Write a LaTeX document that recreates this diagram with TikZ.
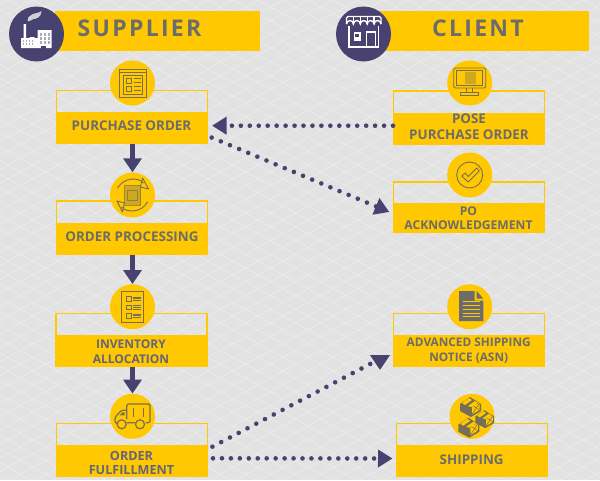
\documentclass[tikz,border=0pt]{standalone}
\usepackage{fontspec}
\setmainfont{Open Sans}
\newfontfamily\headfont[LetterSpace=10]{Open Sans}
\usepackage{xcolor}
\usepackage{tikz}
\usetikzlibrary{arrows.meta,positioning,calc}
\definecolor{pagegray}{HTML}{E2E2E2}
\definecolor{accentyellow}{HTML}{FFC800}
\definecolor{accentnavy}{HTML}{47426F}
\definecolor{labelgray}{HTML}{6C6C6C}
\definecolor{labelblue}{HTML}{65657A}
\definecolor{iconink}{HTML}{776F55}
\tikzset{
  latticeline/.style={draw=white,opacity=0.28,line width=0.9pt},
  headbar/.style={fill=accentyellow,inner sep=0pt,outer sep=0pt,minimum height=39.5pt},
  headlabel/.style={text=labelgray,font=\headfont\bfseries\fontsize{23}{27}\selectfont},
  headdisc/.style={circle,fill=accentnavy,inner sep=0pt,minimum size=55pt},
  boxframe/.style={draw=accentyellow,line width=1.6pt,inner sep=0pt,outer sep=0pt,
    minimum width=151pt,minimum height=53pt},
  boxband/.style={fill=accentyellow,inner sep=0pt,outer sep=0pt,
    minimum width=152pt,minimum height=32pt},
  boxlabel/.style={inner sep=0pt,align=center,text=labelgray},
  biglabel/.style={boxlabel,font=\bfseries\fontsize{13.4}{16.5}\selectfont},
  smalllabel/.style={boxlabel,font=\bfseries\fontsize{12}{14.5}\selectfont},
  icondisc/.style={circle,fill=accentyellow,inner sep=0pt,minimum size=45pt},
  flowarrow/.style={-{Triangle[length=14pt,width=18pt]},line width=5.5pt,draw=accentnavy},
  dotarrow/.style={-{Triangle[length=14.5pt,width=17pt]},draw=accentnavy,line width=4.6pt,
    line cap=round,dash pattern=on 0pt off 8.95pt},
  slantdots/.style={dash pattern=on 0pt off 9.9pt},
  iconline/.style={draw=iconink,line width=0.9pt},
  whiteline/.style={draw=white,line width=1.4pt},
  crate/.pic={
    \fill[iconink] (-10,-2) -- (0,-9) -- (11,-2) -- (11,5) -- (1,11) -- (-10,5) -- cycle;
    \fill[accentyellow] (2,-1) -- (9.5,-3) -- (9.5,4) -- (2,8.5) -- cycle;
    \draw[iconink,line width=0.5pt] (2,-1) -- (9.5,4) (9.5,-3) -- (2,8.5);
    \fill[accentyellow] (-8,-3) -- (-1,-8) -- (2,-6) -- (-5,-1) -- cycle;
    \fill[accentyellow] (-2,0) -- (5,-5) -- (8,-3.5) -- (1,1) -- cycle;
  }
}
\begin{document}
\begin{tikzpicture}[x=1pt,y=-1pt]
  \useasboundingbox (0,0) rectangle (600,480);
  \fill[pagegray] (0,0) rectangle (600,480);
  \foreach \k in {-36,...,24}
    \draw[latticeline] (\k*25+8,0) -- ++(873,480);
  \foreach \k in {0,...,60}
    \draw[latticeline] (\k*25+8,0) -- ++(-873,480);
  % headers
  \node[headbar,minimum width=205pt] (supplierbar) at (157.5,30.75) {};
  \node[headbar,minimum width=214pt] (clientbar) at (482,30.75) {};
  \node[headdisc] (supplierdisc) at (36.5,34) {};
  \node[headdisc] (clientdisc) at (363.5,34) {};
  \node[headlabel] (supplierlabel) at (139.5,28) {SUPPLIER};
  \node[headlabel] (clientlabel) at (478,28) {CLIENT};
  % supplier column
  \node[boxframe] (poframe) at (132,117) {};
  \node[boxband] (poband) at (132,128) {};
  \node[biglabel] (polabel) at (131.5,125.7) {PURCHASE ORDER};
  \node[icondisc] (poicon) at (132.5,83) {};
  \node[boxframe] (procframe) at (132,227.7) {};
  \node[boxband] (procband) at (132,238.7) {};
  \node[biglabel] (proclabel) at (132,236.5) {ORDER PROCESSING};
  \node[icondisc] (procicon) at (132.5,195) {};
  \node[boxframe] (invframe) at (131.5,340) {};
  \node[boxband] (invband) at (131.5,351) {};
  \node[smalllabel,text=labelblue,font=\bfseries\fontsize{12}{15}\selectfont] (invlabel) at (131,351.5) {INVENTORY\\ALLOCATION};
  \node[icondisc] (invicon) at (132.5,306.7) {};
  \node[boxframe] (fulframe) at (132,449.8) {};
  \node[boxband] (fulband) at (132,460.8) {};
  \node[smalllabel,text=labelblue,font=\bfseries\fontsize{12.6}{14}\selectfont] (fullabel) at (131.5,462.5) {ORDER\\FULFILLMENT};
  \node[icondisc] (fulicon) at (132.5,416.3) {};
  % client column
  \node[boxframe] (poseframe) at (469,117.2) {};
  \node[boxband] (poseband) at (469,128.5) {};
  \node[biglabel] (poselabel) at (469,126.8) {POSE\\PURCHASE ORDER};
  \node[icondisc] (poseicon) at (469.7,83) {};
  \node[boxframe,minimum height=50pt] (ackframe) at (469,207) {};
  \node[boxband,minimum height=29pt] (ackband) at (469,217.5) {};
  \node[smalllabel,font=\bfseries\fontsize{12.1}{14}\selectfont] (acklabel) at (468.5,218) {PO\\ACKNOWLEDGEMENT};
  \node[icondisc] (ackicon) at (469.7,175) {};
  \node[boxframe] (asnframe) at (469,340) {};
  \node[boxband] (asnband) at (469,351.3) {};
  \node[smalllabel,font=\bfseries\fontsize{11.8}{14.5}\selectfont] (asnlabel) at (468.7,350.7) {ADVANCED SHIPPING\\NOTICE (ASN)};
  \node[icondisc] (asnicon) at (469.7,306.7) {};
  \node[boxframe] (shipframe) at (472,449.8) {};
  \node[boxband] (shipband) at (472,461) {};
  \node[biglabel] (shiplabel) at (471.7,460) {SHIPPING};
  \node[icondisc] (shipicon) at (472,416.3) {};
  % connectors
  \coordinate (asntip) at (380,370);
  \draw[flowarrow] (procicon.north |- poband.south) -- (procicon.north);
  \draw[flowarrow] (invicon.north |- procband.south) -- (invicon.north);
  \draw[flowarrow] (fulicon.north |- invband.south) -- (fulicon.north);
  \draw[dotarrow,shorten >=4pt] ([yshift=2.8pt]poseband.west) -- ([yshift=2.3pt]poband.east);
  \draw[dotarrow,slantdots,shorten <=4pt,shorten >=4pt] ([yshift=-8pt]poband.east) -- ([yshift=4pt]ackband.west);
  \draw[dotarrow,slantdots,shorten <=5pt,-{Triangle[length=15pt,width=19pt]}] ([yshift=11.8pt]fulband.east) -- (380,358.8) -- (asntip);
  \draw[dotarrow,shorten <=5pt,shorten >=3.5pt] ([yshift=2.5pt]fulband.east) -- ([yshift=2.5pt]shipband.west);
  % icons
  \begin{scope}[shift={(supplierdisc.center)}]
    \fill[white] (-15.5,4) rectangle (1,14) (1,-4) rectangle (15,14) (-13,-10) rectangle (-10.5,4) (-7,3) rectangle (-2,4);
    \fill[white,opacity=0.75] (-8,-17) .. controls (-3,-22) and (2,-20) .. (5,-23) .. controls (5,-17) and (0,-15) .. (-3,-15) .. controls (-5,-14) and (-8,-12) .. (-9,-13) -- cycle;
    \fill[accentnavy] (4,12) rectangle (9,14.5);
    \foreach \x in {3,7,11}
      \foreach \y in {-1,3,7}
        \fill[accentnavy!45] (\x,\y) rectangle ++(2.6,2.6);
    \foreach \x in {-14,-11,...,-3}
      \foreach \y in {6,9}
        \fill[accentnavy!45] (\x,\y) rectangle ++(1.8,1.8);
  \end{scope}
  \begin{scope}[shift={(clientdisc.center)}]
    \draw[whiteline] (-14.5,-8) -- (-14.5,13) -- (15,13) -- (15,-8);
    \draw[whiteline,rounded corners=1.5pt] (-17,-10) -- (-17,-17.5) -- (17.5,-17.5) -- (17.5,-10);
    \draw[whiteline] (-17,-10) arc (180:360:3.45) arc (180:360:3.45) arc (180:360:3.45) arc (180:360:3.45) arc (180:360:3.45);
    \foreach \x in {-10.1,-3.2,3.7,10.6}
      \draw[whiteline] (\x,-17.5) -- (\x,-10);
    \draw[whiteline] (3,13) -- (3,-2) -- (12,-2) -- (12,13);
    \fill[white] (-10,-2) rectangle (-3,7);
    \fill[accentnavy] (-8.5,-0.5) rectangle (-4.5,3);
  \end{scope}
  \begin{scope}[shift={(poicon.center)}]
    \draw[iconline] (-13,-14) rectangle (13.5,14.5) (-13,-10.5) -- (13.5,-10.5);
    \draw[iconline] (-9,-8) rectangle (10,11);
    \draw[iconline] (-6,-5) rectangle (-1,0) (-6,3) rectangle (-1,8);
    \draw[iconline] (1,-4.5) -- (8,-4.5) (1,-1) -- (8,-1) (1,3.5) -- (8,3.5) (1,7) -- (8,7);
  \end{scope}
  \begin{scope}[shift={(procicon.center)}]
    \fill[iconink,opacity=0.35] (-8,-9.5) rectangle (8,10);
    \draw[iconline,opacity=0.7] (-8,-9.5) rectangle (8,10) (-5,-5) rectangle (5,5);
    \draw[iconline] (-15,-7) .. controls (-8,-18) and (6,-18) .. (11,-12);
    \draw[iconline] (15,7) .. controls (9,18) and (-6,18) .. (-11,12);
    \draw[iconline,line join=round] (10,-17) -- (16,-6) -- (8,-8) -- cycle;
    \draw[iconline,line join=round] (-10,17) -- (-15.5,6) -- (-8,8) -- cycle;
  \end{scope}
  \begin{scope}[shift={(poseicon.center)}]
    \draw[iconline,rounded corners=1.5pt] (-16,-15) rectangle (16,5);
    \draw[iconline] (-13,-12.5) rectangle (13,2.5);
    \fill[iconink,opacity=0.35] (-5,-11) rectangle (6,1);
    \draw[iconline] (-3,5) -- (-3,9.5) (3,5) -- (3,9.5);
    \draw[iconline] (-9,9.5) rectangle (9,12.5);
  \end{scope}
  \begin{scope}[shift={(ackicon.center)}]
    \draw[iconline] (0,0) circle (13);
    \draw[iconline,line join=round] (-8,1) -- (-4.5,-2) -- (-1.5,1.5) -- (7,-7) -- (9.5,-4) -- (-1.5,7) -- cycle;
  \end{scope}
  \begin{scope}[shift={(invicon.center)}]
    \draw[iconline] (-11,-15) rectangle (11,16);
    \foreach \y in {-10,-1.5,7}
      \draw[iconline] (-6,\y) rectangle ++(4.5,4.5) (0,\y+0.5) -- ++(8,0) (0,\y+2.2) -- ++(8,0) (0,\y+4) -- ++(8,0);
  \end{scope}
  \begin{scope}[shift={(asnicon.center)}]
    \fill[labelgray] (-10.7,-15.7) -- (5,-15.7) -- (5,-6) -- (13.6,-6) -- (13.6,14.3) -- (-10.7,14.3) -- cycle;
    \fill[labelgray] (7,-15.7) -- (13.6,-8) -- (7,-8) -- cycle;
    \foreach \y in {-5,-1,3,7,10}
      \draw[accentyellow,line width=1.1pt] (-7,\y) -- (10,\y);
  \end{scope}
  \begin{scope}[shift={(fulicon.center)}]
    \draw[iconline,line width=1.2pt,rounded corners=1.5pt] (-5.8,3) -- (-5.8,-12.3) -- (17.5,-12.3) -- (17.5,6.4) -- (13,6.4) (2.5,6.4) -- (-5.8,6.4) (-5.8,-6) -- (-11,-6) -- (-17.5,1) -- (-17.5,7) -- (-15,7);
    \draw[iconline,line width=1.2pt] (-10.8,8) circle (4.5) (7.5,8) circle (4.5);
    \draw[iconline,line width=1.2pt] (1,-8) -- (1,1) (11,-8) -- (11,1);
    \fill[iconink] (-13,-1) -- (-10,-4) -- (-8,-4) -- (-8,-1) -- cycle;
  \end{scope}
  \begin{scope}[shift={(shipicon.center)}]
    \pic at (-2,-10.3) {crate};
    \pic[scale=0.9] at (12.3,2) {crate};
    \pic at (-3.7,10.4) {crate};
  \end{scope}
\end{tikzpicture}
\end{document}
